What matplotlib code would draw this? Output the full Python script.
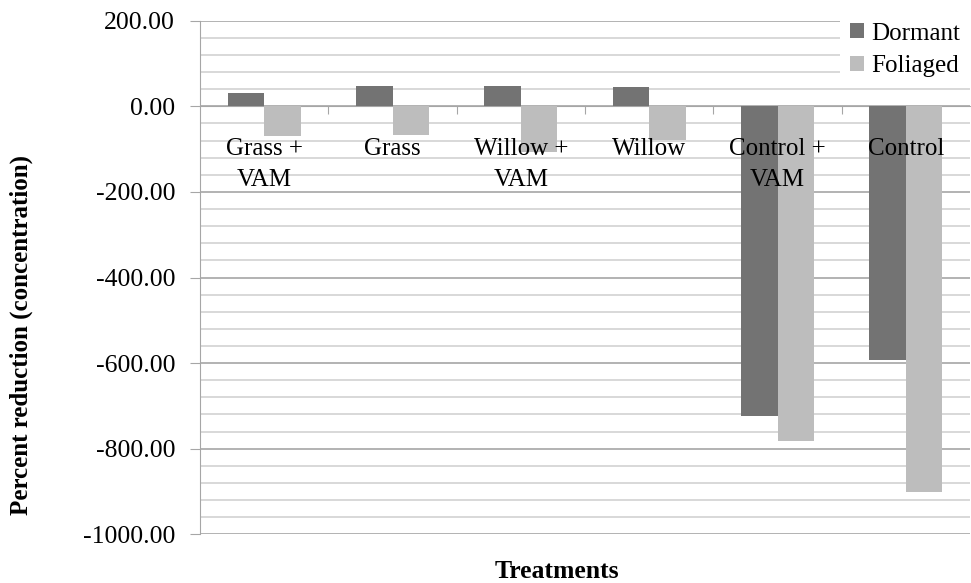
import matplotlib.pyplot as plt
import numpy as np

# Data
treatments = ['Grass +\nVAM', 'Grass', 'Willow +\nVAM', 'Willow', 'Control +\nVAM', 'Control']
dormant = [32, 47, 48, 45, -723, -593]
foliaged = [-70, -68, -107, -78, -783, -902]

plt.rcParams['font.family'] = ['Liberation Serif', 'DejaVu Serif']

fig = plt.figure(figsize=(9.71, 5.83), dpi=100)
ax = fig.add_axes([200/971, 1 - 534.3/583, 770/971, (534.3 - 20.7)/583])

x = np.arange(len(treatments))
w = 0.285
ax.bar(x - w/2, dormant, w, color='#737373', label='Dormant', zorder=3)
ax.bar(x + w/2, foliaged, w, color='#bdbdbd', label='Foliaged', zorder=3)

ax.set_xlim(-0.5, len(treatments) - 0.5)
ax.set_ylim(-1000, 200)

# gridlines
ax.set_yticks(np.arange(-1000, 201, 200))
ax.set_yticks(np.arange(-1000, 201, 40), minor=True)
ax.grid(axis='y', which='minor', color='#d2d2d2', lw=1.2, zorder=0)
ax.grid(axis='y', which='major', color='#a6a6a6', lw=1.2, zorder=0)
ax.set_yticklabels(['%.2f' % v for v in np.arange(-1000, 201, 200)], fontsize=18.5)
ax.tick_params(axis='y', which='major', length=7, color='#a6a6a6', pad=11)
ax.tick_params(axis='y', which='minor', length=0)

# x axis along zero
ax.spines['bottom'].set_position(('data', 0))
ax.spines['bottom'].set_color('#a6a6a6')
ax.spines['left'].set_color('#a6a6a6')
ax.spines['top'].set_visible(False)
ax.spines['right'].set_visible(False)
ax.set_xticks(np.arange(0.5, len(treatments) - 0.5, 1))
ax.set_xticks([], minor=True)
ax.set_xticklabels([])
ax.tick_params(axis='x', which='major', direction='out', length=6, color='#a6a6a6')

for i, t in enumerate(treatments):
    ax.annotate(t, (i, 0), xytext=(0, -22.5), textcoords='offset points',
                ha='center', va='top', fontsize=18, linespacing=1.55, zorder=5)

ax.set_ylabel('Percent reduction (concentration)', fontsize=18, fontweight='bold')
ax.yaxis.set_label_coords(-0.217, 0.388)
fig.text(557/971, 1 - 572/583, 'Treatments', fontsize=18.5, fontweight='bold',
         ha='center', va='center')

leg = ax.legend(loc='upper right', bbox_to_anchor=(1.012, 1.0), bbox_transform=fig.transFigure,
                fontsize=18, frameon=True, framealpha=1, facecolor='white', edgecolor='none',
                handlelength=0.55, handleheight=0.55, handletextpad=0.3, labelspacing=0.42,
                borderpad=0.4, fancybox=False)

fig.savefig('out.png', dpi=100)
